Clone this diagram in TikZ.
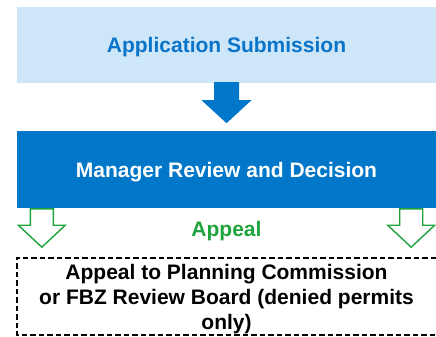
\documentclass[tikz,border=0pt]{standalone}
\usepackage{fontspec}
\setmainfont{Liberation Sans}
\usepackage{tikz}
\usetikzlibrary{
  calc,%
  positioning
}
\definecolor{lightblue}{HTML}{CDE6F8}
\definecolor{textblue}{HTML}{0A74C9}
\definecolor{darkblue}{HTML}{0077C8}
\definecolor{appealgreen}{HTML}{1FA33C}
\tikzset{font=\bfseries\fontsize{21}{25}\selectfont}
\tikzset{stagebox/.style={rectangle, minimum width=419pt, minimum height=76pt,
    inner sep=0pt, align=center, text depth=0pt}}
\tikzset{bluearrow/.style={fill=darkblue, draw=none}}
\tikzset{greenarrow/.style={draw=appealgreen, fill=white, line width=1.4pt}}

\begin{document}
\begin{tikzpicture}[x=1pt, y=-1pt]
          \clip (0,0) rectangle (436,337);
          \node[stagebox, fill=lightblue, text=textblue] (submit) at (226.5,45) {Application Submission};
          \node[stagebox, fill=darkblue, text=white, minimum height=77pt] (manager) at (226.5,169.5) {Manager Review and Decision};
          \node[stagebox, minimum height=77pt] (appealbox) at (226.5,296.5)
            {Appeal to Planning Commission\\or FBZ Review Board (denied permits\\only)};
          \draw[line width=1.6pt, dash pattern=on 5.5pt off 3pt]
            (appealbox.north east) -- (appealbox.north west) -- (appealbox.south west) -- (appealbox.south east);
          % block arrow between the two stages
          \fill[bluearrow, shift={(submit.south)}] (-12.5,-1) -- (12.5,-1) -- (12.5,17) -- (25,17)
            -- (0,40) -- (-25,17) -- (-12.5,17) -- cycle;
          % appeal arrows
          \foreach \pos/\dx in {south west/25, south east/-25}
            \draw[greenarrow, shift={($(manager.\pos)+(\dx,0)$)}] (-11.5,0.7) -- (11.5,0.7) -- (11.5,17)
              -- (23.5,17) -- (0,39) -- (-23.5,17) -- (-11.5,17) -- cycle;
          \node[text=appealgreen, anchor=base] (appeallabel) at (226.5,236) {Appeal};
        \end{tikzpicture}
\end{document}
